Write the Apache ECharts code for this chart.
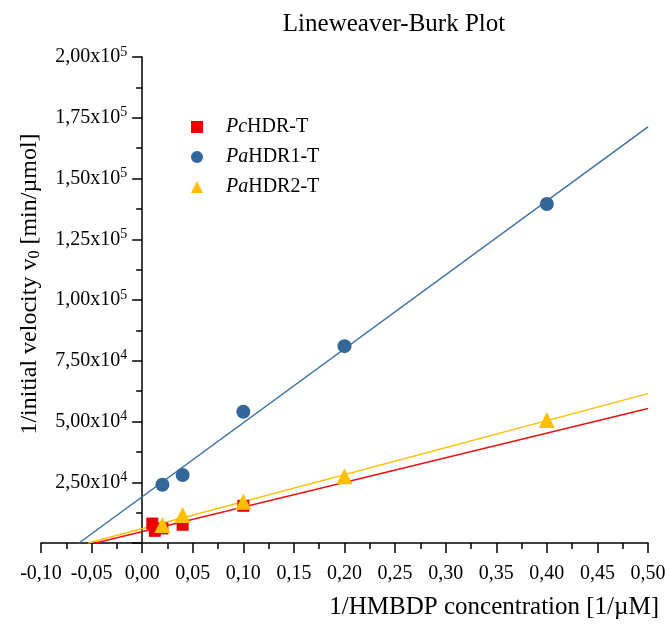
<!DOCTYPE html>
<html>
<head>
<meta charset="utf-8">
<title>Lineweaver-Burk Plot</title>
<script src="https://cdn.jsdelivr.net/npm/echarts@6/dist/echarts.min.js"></script>
<style>
  html, body { margin: 0; padding: 0; background: #fff; }
  #chart { width: 665px; height: 625px; }
</style>
</head>
<body>
<div id="chart"></div>
<script>
// Reciprocal substrate concentration (1/µM) and reciprocal initial velocity (min/µmol)
const pcX = [0.01, 0.0125, 0.02, 0.04, 0.10];
const pcY = [8000, 5000, 6000, 7500, 15300];

const pa1X = [0.02, 0.04, 0.10, 0.20, 0.40];
const pa1Y = [24000, 28000, 54000, 81000, 139500];

const pa2X = [0.02, 0.04, 0.10, 0.20, 0.40];
const pa2Y = [7400, 11500, 17000, 27500, 50600];

const seriesNames = ['PcHDR-T', 'PaHDR1-T', 'PaHDR2-T'];
const seriesColors = ['#ee0000', '#336699', '#ffc000'];
const lineColors = ['#ee1111', '#3d72aa', '#ffc000'];

const xTicks = [-0.10, -0.05, 0.00, 0.05, 0.10, 0.15, 0.20, 0.25, 0.30, 0.35, 0.40, 0.45, 0.50];
const yTicks = [0, 25000, 50000, 75000, 100000, 125000, 150000, 175000, 200000];

const FONT = '"Liberation Serif", "Times New Roman", serif';

// Plot area in pixels
const GRID = { left: 41, right: 17, top: 57, bottom: 82 };
const PLOT_W = 665 - GRID.left - GRID.right;

// Ordinary least-squares fit y = a + b x
function linearFit(xs, ys) {
  const n = xs.length;
  const mx = xs.reduce((s, v) => s + v, 0) / n;
  const my = ys.reduce((s, v) => s + v, 0) / n;
  let sxx = 0, sxy = 0;
  for (let i = 0; i < n; i++) {
    sxx += (xs[i] - mx) * (xs[i] - mx);
    sxy += (xs[i] - mx) * (ys[i] - my);
  }
  const b = sxy / sxx;
  return { a: my - b * mx, b: b };
}

// Fit line from its x-intercept to the right end of the axis
function fitLine(xs, ys) {
  const f = linearFit(xs, ys);
  const xEnd = xTicks[xTicks.length - 1];
  const x0 = -f.a / f.b;
  return [[x0, 0], [xEnd, f.a + f.b * xEnd]];
}

const pairs = (xs, ys) => xs.map((x, i) => [x, ys[i]]);

const chart = echarts.init(document.getElementById('chart'), null, { renderer: 'canvas' });

function fmtX(v) {
  if (Math.abs(v) < 1e-9) v = 0;
  return v.toFixed(2).replace('.', ',');
}

function fmtY(v) {
  if (v === 0) return '';
  const e = Math.floor(Math.log10(v) + 1e-9);
  const m = v / Math.pow(10, e);
  return '{b|' + m.toFixed(2).replace('.', ',') + 'x10}{s|' + e + '}';
}

// Shift the y axis from the left edge of the plot to x = 0
const xMin = xTicks[0], xMax = xTicks[xTicks.length - 1];
const yAxisShift = -((0 - xMin) / (xMax - xMin)) * PLOT_W;

const option = {
  backgroundColor: '#ffffff',
  animation: false,
  title: {
    text: 'Lineweaver-Burk Plot',
    left: 389,
    top: 7,
    textAlign: 'center',
    textStyle: { fontFamily: FONT, fontWeight: 'normal', fontSize: 25, color: '#000' }
  },
  grid: {
    left: GRID.left, right: GRID.right, top: GRID.top, bottom: GRID.bottom,
    containLabel: false,
    outerBoundsMode: 'none'
  },
  legend: {
    orient: 'vertical',
    left: 191,
    top: 117,
    padding: 0,
    itemWidth: 12,
    itemHeight: 12,
    itemGap: 10,
    data: [
      { name: seriesNames[0], icon: 'rect' },
      { name: seriesNames[1], icon: 'circle' },
      { name: seriesNames[2], icon: 'triangle' }
    ],
    formatter: name => '{i|' + name.slice(0, 2) + '}{n|' + name.slice(2) + '}',
    textStyle: {
      fontFamily: FONT,
      fontSize: 20,
      color: '#000',
      rich: {
        i: { fontFamily: FONT, fontSize: 20, fontStyle: 'italic', lineHeight: 20, padding: [0, 0, 0, 18] },
        n: { fontFamily: FONT, fontSize: 20, lineHeight: 20 }
      }
    }
  },
  xAxis: {
    type: 'value',
    min: xMin,
    max: xMax,
    interval: 0.05,
    axisLine: { onZero: false, lineStyle: { color: '#000', width: 1.5 } },
    axisTick: { show: true, inside: false, length: 10, lineStyle: { color: '#000', width: 1.5 } },
    minorTick: { show: true, splitNumber: 2, length: 6, lineStyle: { color: '#000', width: 1.5 } },
    splitLine: { show: false },
    axisLabel: {
      formatter: fmtX,
      margin: 21,
      fontFamily: FONT,
      fontSize: 20,
      color: '#000'
    }
  },
  yAxis: {
    type: 'value',
    min: yTicks[0],
    max: yTicks[yTicks.length - 1],
    interval: 25000,
    offset: yAxisShift,
    axisLine: { show: true, onZero: false, lineStyle: { color: '#000', width: 1.5 } },
    axisTick: { show: true, inside: false, length: 10, lineStyle: { color: '#000', width: 1.5 } },
    minorTick: { show: true, splitNumber: 2, length: 6, lineStyle: { color: '#000', width: 1.5 } },
    splitLine: { show: false },
    axisLabel: {
      formatter: fmtY,
      margin: 15,
      color: '#000',
      rich: {
        b: { fontFamily: FONT, fontSize: 20, color: '#000' },
        s: { fontFamily: FONT, fontSize: 14, color: '#000', padding: [0, 0, 10, 0] }
      }
    }
  },
  graphic: [
    {
      type: 'text',
      right: 6,
      top: 595,
      style: {
        text: '1/HMBDP concentration [1/µM]',
        fontFamily: FONT,
        fontSize: 25,
        fill: '#000'
      }
    },
    {
      type: 'text',
      x: 30,
      y: 284,
      rotation: Math.PI / 2,
      style: {
        text: '{t|1/initial velocity v}{u|0}{t| [min/µmol]}',
        align: 'center',
        verticalAlign: 'middle',
        rich: {
          t: { fontFamily: FONT, fontSize: 24, fill: '#000' },
          u: { fontFamily: FONT, fontSize: 16, fill: '#000', padding: [10, 0, 0, 0] }
        }
      }
    }
  ],
  series: [
    {
      name: seriesNames[1] + ' fit',
      type: 'line',
      data: fitLine(pa1X, pa1Y),
      showSymbol: false,
      symbol: 'none',
      clip: true,
      lineStyle: { color: lineColors[1], width: 1.5 },
      z: 2,
      silent: true
    },
    {
      name: seriesNames[2] + ' fit',
      type: 'line',
      data: fitLine(pa2X, pa2Y),
      showSymbol: false,
      symbol: 'none',
      clip: true,
      lineStyle: { color: lineColors[2], width: 1.5 },
      z: 2,
      silent: true
    },
    {
      name: seriesNames[0] + ' fit',
      type: 'line',
      data: fitLine(pcX, pcY),
      showSymbol: false,
      symbol: 'none',
      clip: true,
      lineStyle: { color: lineColors[0], width: 1.5 },
      z: 2,
      silent: true
    },
    {
      name: seriesNames[0],
      type: 'scatter',
      symbol: 'rect',
      symbolSize: 12,
      data: pairs(pcX, pcY),
      itemStyle: { color: seriesColors[0], opacity: 1 },
      z: 3
    },
    {
      name: seriesNames[1],
      type: 'scatter',
      symbol: 'circle',
      symbolSize: 14,
      data: pairs(pa1X, pa1Y),
      itemStyle: { color: seriesColors[1], opacity: 1 },
      z: 3
    },
    {
      name: seriesNames[2],
      type: 'scatter',
      symbol: 'triangle',
      symbolSize: 16,
      data: pairs(pa2X, pa2Y),
      itemStyle: { color: seriesColors[2], opacity: 1 },
      z: 4
    }
  ]
};

chart.setOption(option);
</script>
</body>
</html>
